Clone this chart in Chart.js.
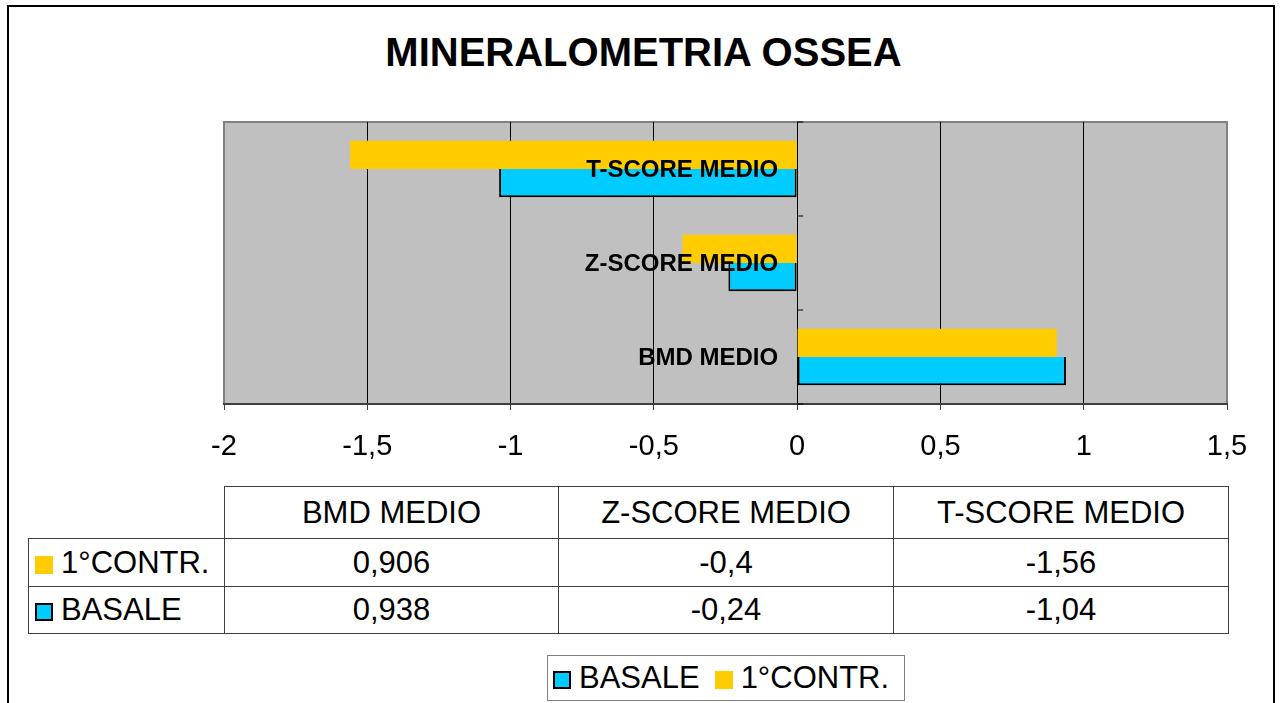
<!DOCTYPE html>
<html>
<head>
<meta charset="utf-8">
<script src="https://cdn.jsdelivr.net/npm/chart.js@4"></script>
<style>
    body { margin: 0; background: #fff; font-family: Arial, "Liberation Sans", sans-serif; }
    .frame { position: absolute; left: 7px; top: 5px; width: 1264px; height: 720px; border: 2px solid #000; border-bottom: none; }
    .title { position: absolute; left: 0; top: 30px; width: 1287px; text-align: center; font-weight: bold; font-size: 40px; }
    #chartCanvas { position: absolute; left: 0; top: 0; }
    table.data { position: absolute; left: 28px; top: 486px; width: 1200px; table-layout: fixed; border-collapse: collapse; font-size: 31px; }
    table.data td { border: 1px solid #404040; text-align: center; padding: 0; white-space: nowrap; }
    table.data td.blank { border-top: none; border-left: none; }
    table.data td.name { text-align: left; padding-left: 6px; }
    .sw { display: inline-block; width: 18px; height: 18px; margin-right: 8px; vertical-align: -1px; box-sizing: border-box; }
    .legend { position: absolute; left: 547px; top: 655px; width: 358px; height: 46px; border: 1px solid #808080; font-size: 31px; line-height: 44px; box-sizing: border-box; padding-left: 5px; white-space: nowrap; }
</style>
</head>
<body>
<div class="frame"></div>
<div class="title">MINERALOMETRIA OSSEA</div>
<canvas id="chartCanvas" width="1281" height="470"></canvas>
<table class="data" id="dataTable"></table>
<div class="legend" id="legendBox"></div>
<script>
// data
const categories = ['BMD MEDIO', 'Z-SCORE MEDIO', 'T-SCORE MEDIO'];
const contrValues = [0.906, -0.4, -1.56];
const basaleValues = [0.938, -0.24, -1.04];
const seriesNames = ['1°CONTR.', 'BASALE'];
const xTicks = [-2, -1.5, -1, -0.5, 0, 0.5, 1, 1.5];

const YELLOW = '#FFCC00';
const CYAN = '#00CCFF';

function fmt(v) {
    return String(v).replace('.', ',');
}

// background + plot border
const plotBackground = {
    id: 'plotBackground',
    beforeDraw(chart) {
        const a = chart.chartArea;
        const ctx = chart.ctx;
        ctx.save();
        ctx.fillStyle = '#C0C0C0';
        ctx.fillRect(a.left, a.top, a.right - a.left, a.bottom - a.top);
        ctx.strokeStyle = '#808080';
        ctx.lineWidth = 2;
        ctx.strokeRect(a.left, a.top, a.right - a.left, a.bottom - a.top);
        ctx.restore();
    },
    beforeDatasetsDraw(chart) {
        // small category tick marks on the zero axis
        const x0 = chart.scales.x.getPixelForValue(0);
        const y = chart.scales.y;
        const ctx = chart.ctx;
        ctx.save();
        ctx.strokeStyle = '#000';
        ctx.lineWidth = 1;
        for (let i = 0; i <= categories.length; i++) {
            const py = (y.getPixelForValue(i - 0.5));
            ctx.beginPath();
            ctx.moveTo(x0, py);
            ctx.lineTo(x0 + 6, py);
            ctx.stroke();
        }
        ctx.restore();
    },
    afterDatasetsDraw(chart) {
        const x0 = chart.scales.x.getPixelForValue(0);
        const y = chart.scales.y;
        const ctx = chart.ctx;
        ctx.save();
        ctx.fillStyle = '#000';
        ctx.font = 'bold 24px Arial, "Liberation Sans"';
        ctx.textAlign = 'right';
        ctx.textBaseline = 'middle';
        categories.forEach((c, i) => {
            ctx.fillText(c, x0 - 19, y.getPixelForValue(i) + 1);
        });
        ctx.restore();
    }
};

const chart = new Chart(document.getElementById('chartCanvas'), {
    type: 'bar',
    data: {
        labels: categories,
        datasets: [{
            label: seriesNames[0],
            data: contrValues,
            backgroundColor: YELLOW,
            borderWidth: 0
        }, {
            label: seriesNames[1],
            data: basaleValues,
            backgroundColor: CYAN,
            borderColor: '#000',
            borderWidth: 2,
            borderSkipped: 'top'
        }]
    },
    options: {
        indexAxis: 'y',
        responsive: false,
        animation: false,
        datasets: {
            bar: { categoryPercentage: 0.6, barPercentage: 1 }
        },
        layout: {
            padding: { left: 224, right: 54, top: 122, bottom: 0 }
        },
        scales: {
            x: {
                min: -2,
                max: 1.5,
                afterFit(scale) { scale.height = 66; },
                afterBuildTicks(scale) { scale.ticks = xTicks.map(v => ({ value: v })); },
                grid: {
                    color: ctx => (ctx.index === 0 || ctx.index === xTicks.length - 1) ? '#808080' : '#000',
                    lineWidth: 1,
                    tickLength: 6,
                    tickColor: '#404040'
                },
                border: { display: true, color: '#404040', width: 2 },
                ticks: {
                    color: '#000',
                    padding: 20,
                    maxRotation: 0,
                    font: { family: 'Arial, "Liberation Sans"', size: 29 },
                    callback: v => fmt(v)
                }
            },
            y: {
                display: false,
                reverse: true
            }
        },
        plugins: {
            legend: { display: false },
            tooltip: { enabled: false }
        }
    },
    plugins: [plotBackground]
});

// data table below the chart
const table = document.getElementById('dataTable');
const colWidths = [196, 334, 335, 335];
let html = '<colgroup>' + colWidths.map(w => '<col style="width:' + w + 'px">').join('') + '</colgroup>';
html += '<tr style="height:52px"><td class="blank"></td>';
categories.forEach(c => {
    html += '<td>' + c + '</td>';
});
html += '</tr>';
const rows = [
    { name: seriesNames[0], values: contrValues, sw: 'background:' + YELLOW, h: 48 },
    { name: seriesNames[1], values: basaleValues, sw: 'background:' + CYAN + ';border:2px solid #000', h: 47 }
];
rows.forEach(r => {
    html += '<tr style="height:' + r.h + 'px"><td class="name"><span class="sw" style="' + r.sw + '"></span>' + r.name + '</td>';
    r.values.forEach(v => { html += '<td>' + fmt(v) + '</td>'; });
    html += '</tr>';
});
table.innerHTML = html;

// legend box
document.getElementById('legendBox').innerHTML =
    '<span class="sw" style="background:' + CYAN + ';border:2px solid #000"></span>' + seriesNames[1] +
    '<span class="sw" style="background:' + YELLOW + ';margin-left:15px"></span>' + seriesNames[0];
</script>
</body>
</html>
